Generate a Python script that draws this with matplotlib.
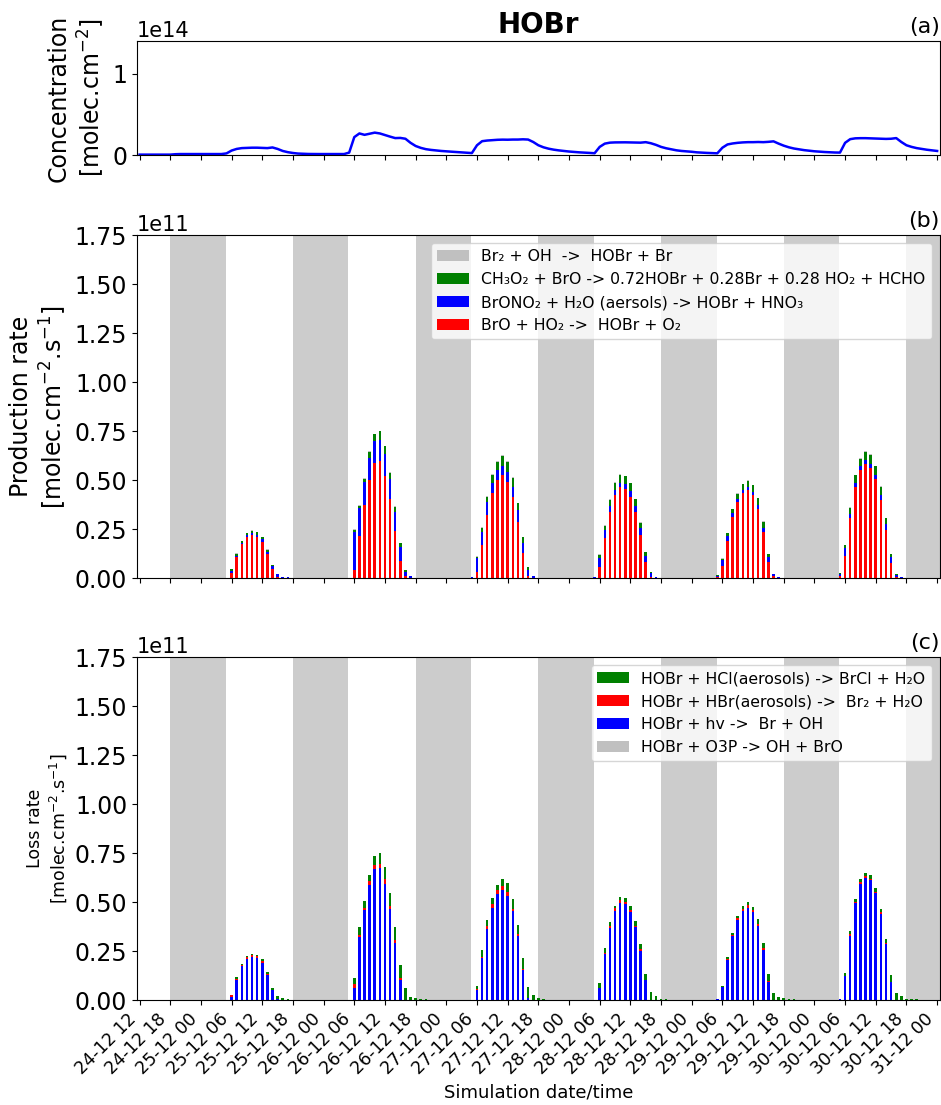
import numpy as np
import pandas as pd
import matplotlib
matplotlib.use("Agg")
import matplotlib.pyplot as plt
import matplotlib.dates as mdates

# HOBr column (x1e14 molec/cm2), hourly, 24-12 12h -> 31-12 00h
CONC_24 = [0.005, 0.005, 0.005, 0.005, 0.005, 0.005, 0.005, 0.01, 0.012, 0.012, 0.012, 0.012]
CONC_25 = [0.012, 0.012, 0.012, 0.012, 0.012, 0.02, 0.055, 0.075, 0.085, 0.088, 0.09, 0.09,
           0.088, 0.085, 0.093, 0.075, 0.05, 0.035, 0.025, 0.018, 0.015, 0.013, 0.012, 0.012]
CONC_26 = [0.012, 0.012, 0.012, 0.012, 0.012, 0.03, 0.22, 0.265, 0.248, 0.262, 0.275, 0.265,
           0.245, 0.226, 0.208, 0.21, 0.2, 0.15, 0.111, 0.088, 0.072, 0.063, 0.056, 0.05]
CONC_27 = [0.045, 0.041, 0.037, 0.033, 0.03, 0.024, 0.12, 0.17, 0.178, 0.183, 0.187, 0.189,
           0.188, 0.19, 0.19, 0.193, 0.19, 0.16, 0.12, 0.095, 0.078, 0.066, 0.057, 0.05]
CONC_28 = [0.043, 0.038, 0.033, 0.03, 0.026, 0.022, 0.1, 0.14, 0.152, 0.155, 0.156, 0.156,
           0.155, 0.154, 0.152, 0.158, 0.145, 0.125, 0.1, 0.083, 0.07, 0.058, 0.05, 0.045]
CONC_29 = [0.04, 0.033, 0.029, 0.026, 0.023, 0.021, 0.09, 0.13, 0.142, 0.15, 0.155, 0.158,
           0.158, 0.16, 0.158, 0.162, 0.168, 0.14, 0.115, 0.095, 0.08, 0.07, 0.06, 0.053]
CONC_30 = [0.046, 0.041, 0.037, 0.034, 0.031, 0.03, 0.15, 0.195, 0.205, 0.207, 0.207, 0.205,
           0.203, 0.2, 0.198, 0.2, 0.208, 0.16, 0.12, 0.1, 0.085, 0.075, 0.065, 0.058]
CONC_31 = [0.05]

# bar days and hours (05h .. 20h of each day), rates in 1e11 molec/cm2/s
DAYS = ["2019-12-25", "2019-12-26", "2019-12-27", "2019-12-28", "2019-12-29", "2019-12-30"]
BAR_HOURS = list(range(5, 21))

# production terms
PROD_BRO_HO2 = [
    [0, 0.029, 0.11, 0.175, 0.211, 0.223, 0.211, 0.184, 0.126, 0.048, 0.008, 0, 0, 0, 0, 0],
    [0, 0.044, 0.218, 0.374, 0.502, 0.587, 0.599, 0.524, 0.405, 0.241, 0.087, 0.01, 0, 0, 0, 0],
    [0, 0.031, 0.17, 0.325, 0.435, 0.502, 0.526, 0.491, 0.413, 0.286, 0.128, 0.014, 0, 0, 0, 0],
    [0, 0.056, 0.207, 0.34, 0.425, 0.464, 0.454, 0.417, 0.34, 0.223, 0.082, 0.008, 0, 0, 0, 0],
    [0.006, 0.061, 0.192, 0.31, 0.388, 0.437, 0.451, 0.427, 0.354, 0.236, 0.085, 0.01, 0, 0, 0, 0],
    [0.014, 0.114, 0.308, 0.464, 0.553, 0.583, 0.565, 0.505, 0.4, 0.245, 0.078, 0.006, 0, 0, 0, 0],
]
PROD_BRONO2 = [
    [0, 0.01, 0.005, 0.007, 0.01, 0.007, 0.01, 0.015, 0.01, 0.017, 0.012, 0.005, 0.005, 0, 0, 0],
    [0, 0.194, 0.139, 0.119, 0.114, 0.112, 0.107, 0.11, 0.1, 0.097, 0.071, 0.024, 0.01, 0.003, 0.003, 0.003],
    [0.008, 0.07, 0.068, 0.063, 0.053, 0.048, 0.049, 0.053, 0.054, 0.06, 0.053, 0.029, 0.01, 0.003, 0.003, 0],
    [0.008, 0.048, 0.039, 0.031, 0.027, 0.024, 0.027, 0.029, 0.031, 0.032, 0.034, 0.019, 0.005, 0.003, 0.003, 0.003],
    [0.005, 0.031, 0.026, 0.022, 0.017, 0.015, 0.014, 0.015, 0.019, 0.022, 0.024, 0.01, 0.008, 0.003, 0.003, 0.003],
    [0.01, 0.041, 0.022, 0.02, 0.02, 0.018, 0.02, 0.02, 0.027, 0.031, 0.031, 0.012, 0.005, 0.003, 0.003, 0],
]
PROD_CH3O2 = [
    [0, 0.007, 0.01, 0.008, 0.01, 0.012, 0.015, 0.01, 0.009, 0.003, 0.002, 0, 0, 0, 0, 0],
    [0, 0.01, 0.014, 0.015, 0.029, 0.036, 0.044, 0.039, 0.032, 0.027, 0.021, 0.01, 0, 0, 0, 0],
    [0, 0.008, 0.019, 0.029, 0.041, 0.044, 0.049, 0.05, 0.047, 0.037, 0.028, 0.013, 0, 0, 0, 0],
    [0, 0.017, 0.023, 0.03, 0.036, 0.041, 0.039, 0.039, 0.032, 0.029, 0.017, 0.007, 0, 0, 0, 0],
    [0.005, 0.008, 0.012, 0.019, 0.027, 0.028, 0.033, 0.032, 0.035, 0.029, 0.013, 0.004, 0, 0, 0, 0],
    [0.005, 0.013, 0.029, 0.041, 0.037, 0.044, 0.045, 0.046, 0.039, 0.03, 0.013, 0.006, 0, 0, 0, 0],
]
PROD_BR2_OH = [
    [0, 0.002, 0.002, 0.002, 0.002, 0.002, 0.002, 0.002, 0.002, 0.002, 0, 0, 0, 0, 0, 0],
    [0, 0.003, 0.003, 0.003, 0.003, 0.003, 0.003, 0.003, 0.003, 0.003, 0.002, 0, 0, 0, 0, 0],
    [0, 0.003, 0.003, 0.003, 0.003, 0.003, 0.003, 0.003, 0.003, 0.003, 0.002, 0, 0, 0, 0, 0],
    [0, 0.003, 0.003, 0.003, 0.003, 0.003, 0.003, 0.003, 0.003, 0.003, 0.002, 0, 0, 0, 0, 0],
    [0, 0.003, 0.003, 0.003, 0.003, 0.003, 0.003, 0.003, 0.003, 0.003, 0.002, 0, 0, 0, 0, 0],
    [0, 0.003, 0.003, 0.003, 0.003, 0.003, 0.003, 0.003, 0.003, 0.003, 0.002, 0, 0, 0, 0, 0],
]

# loss terms
LOSS_O3P = [[0] * 16 for _ in range(6)]
LOSS_HV = [
    [0, 0.019, 0.105, 0.173, 0.209, 0.223, 0.218, 0.192, 0.131, 0.051, 0.005, 0, 0, 0, 0, 0],
    [0, 0.063, 0.321, 0.461, 0.587, 0.668, 0.673, 0.595, 0.464, 0.293, 0.105, 0.003, 0, 0, 0, 0],
    [0, 0.051, 0.216, 0.366, 0.473, 0.543, 0.563, 0.532, 0.456, 0.328, 0.153, 0.014, 0, 0, 0, 0],
    [0, 0.065, 0.236, 0.369, 0.456, 0.495, 0.49, 0.451, 0.372, 0.253, 0.102, 0.003, 0, 0, 0, 0],
    [0.005, 0.068, 0.206, 0.328, 0.41, 0.456, 0.473, 0.449, 0.381, 0.257, 0.095, 0, 0, 0, 0, 0],
    [0.005, 0.122, 0.33, 0.497, 0.594, 0.626, 0.611, 0.546, 0.442, 0.286, 0.094, 0, 0, 0, 0, 0],
]
LOSS_HBR = [
    [0, 0.007, 0.005, 0.005, 0.01, 0.006, 0.007, 0.007, 0.004, 0, 0, 0, 0, 0, 0, 0],
    [0, 0.02, 0.01, 0.012, 0.019, 0.024, 0.024, 0.024, 0.019, 0.014, 0.009, 0, 0, 0, 0, 0],
    [0, 0.005, 0.003, 0.012, 0.02, 0.019, 0.02, 0.02, 0.012, 0.012, 0.005, 0, 0, 0, 0, 0],
    [0, 0, 0.005, 0.01, 0.015, 0.017, 0.012, 0.008, 0.009, 0.01, 0, 0, 0, 0, 0, 0],
    [0, 0, 0.005, 0.005, 0.008, 0.01, 0.012, 0.01, 0.01, 0.008, 0.003, 0, 0, 0, 0, 0],
    [0, 0.004, 0.007, 0.006, 0.01, 0.01, 0.01, 0.008, 0.007, 0.004, 0, 0, 0, 0, 0, 0],
]
LOSS_HCL = [
    [0, 0, 0.007, 0.007, 0.009, 0.007, 0.008, 0.01, 0.01, 0.014, 0.015, 0.01, 0.005, 0, 0, 0],
    [0, 0.033, 0.044, 0.032, 0.034, 0.043, 0.053, 0.06, 0.065, 0.065, 0.068, 0.06, 0.019, 0.01, 0.005, 0.005],
    [0, 0.015, 0.036, 0.03, 0.031, 0.028, 0.038, 0.045, 0.047, 0.044, 0.055, 0.054, 0.026, 0.01, 0.005, 0],
    [0, 0.022, 0.024, 0.02, 0.012, 0.017, 0.022, 0.02, 0.022, 0.026, 0.034, 0.04, 0.02, 0.008, 0.004, 0],
    [0, 0.005, 0.012, 0.009, 0.012, 0.015, 0.017, 0.019, 0.024, 0.026, 0.038, 0.037, 0.019, 0.012, 0.005, 0.005],
    [0, 0.012, 0.017, 0.014, 0.015, 0.014, 0.017, 0.019, 0.015, 0.021, 0.035, 0.036, 0.022, 0.008, 0.006, 0.005],
]

PROD_LABELS = ["BrO + HO\u2082 ->  HOBr + O\u2082",
               "BrONO\u2082 + H\u2082O (aersols) -> HOBr + HNO\u2083",
               "CH\u2083O\u2082 + BrO -> 0.72HOBr + 0.28Br + 0.28 HO\u2082 + HCHO",
               "Br\u2082 + OH  ->  HOBr + Br"]
LOSS_LABELS = ["HOBr + O3P -> OH + BrO",
               "HOBr + hv ->  Br + OH",
               "HOBr + HBr(aerosols) ->  Br\u2082 + H\u2082O",
               "HOBr + HCl(aerosols) -> BrCl + H\u2082O"]

START = pd.Timestamp("2019-12-24 12:00")
END = pd.Timestamp("2019-12-31 00:00")

plt.rcParams["ytick.labelsize"] = 17
plt.rcParams["xtick.labelsize"] = 12.5

conc = np.array(CONC_24 + CONC_25 + CONC_26 + CONC_27 + CONC_28 + CONC_29 + CONC_30 + CONC_31) * 1e14
times = pd.date_range(START, END, freq="h")

bar_times = [pd.Timestamp(d) + pd.Timedelta(hours=h) for d in DAYS for h in BAR_HOURS]
bx = mdates.date2num(bar_times)
width = 0.5 / 24


def flat(rows):
    return np.array(rows, dtype=float).ravel() * 1e11


def stacked(ax, series, colors, labels):
    bottom = np.zeros(len(bx))
    handles = []
    for vals, c, lab in zip(series, colors, labels):
        h = ax.bar(bx, vals, width, bottom=bottom, color=c, label=lab, zorder=2)
        bottom += vals
        handles.append(h)
    return handles


def shade_nights(ax):
    for d in pd.date_range("2019-12-24", "2019-12-30", freq="D"):
        ax.axvspan(d + pd.Timedelta(hours=18), d + pd.Timedelta(hours=28, minutes=52),
                   color="#cccccc", lw=0, zorder=0)


fig = plt.figure(figsize=(9.41, 11.05), dpi=100)
L, W = 0.1456, 0.853
ax1 = fig.add_axes([L, 0.8597, W, 0.1032])
ax2 = fig.add_axes([L, 0.4767, W, 0.3104], sharex=ax1)
ax3 = fig.add_axes([L, 0.0948, W, 0.3104], sharex=ax1)

ax1.plot(times, conc, color="blue", lw=1.8)
ax1.set_ylim(0, 1.4e14)
ax1.set_yticks([0, 1e14])
ax1.set_ylabel("Concentration\n[molec.cm$^{-2}$]", fontsize=17)
ax1.set_title("HOBr", fontsize=20, fontweight="bold")
ax1.set_title("(a)", loc="right", fontsize=16)

shade_nights(ax2)
hp = stacked(ax2, [flat(PROD_BRO_HO2), flat(PROD_BRONO2), flat(PROD_CH3O2), flat(PROD_BR2_OH)],
             ["red", "blue", "green", "silver"], PROD_LABELS)
ax2.legend(hp[::-1], PROD_LABELS[::-1], loc="upper right", fontsize=11.3)
ax2.set_ylim(0, 1.75e11)
ax2.set_yticks(np.arange(0, 1.76, 0.25) * 1e11)
ax2.set_ylabel("Production rate\n[molec.cm$^{-2}$.s$^{-1}$]", fontsize=17)
ax2.set_title("(b)", loc="right", fontsize=16)

shade_nights(ax3)
hl = stacked(ax3, [flat(LOSS_O3P), flat(LOSS_HV), flat(LOSS_HBR), flat(LOSS_HCL)],
             ["silver", "blue", "red", "green"], LOSS_LABELS)
ax3.legend(hl[::-1], LOSS_LABELS[::-1], loc="upper right", fontsize=11.3)
ax3.set_ylim(0, 1.75e11)
ax3.set_yticks(np.arange(0, 1.76, 0.25) * 1e11)
ax3.set_ylabel("Loss rate\n[molec.cm$^{-2}$.s$^{-1}$]", fontsize=12.5)
ax3.set_title("(c)", loc="right", fontsize=16)
ax3.set_xlabel("Simulation date/time", fontsize=13)

for ax in (ax1, ax2, ax3):
    ax.yaxis.get_offset_text().set_fontsize(15)

ax3.set_xlim(START - pd.Timedelta(minutes=30), END + pd.Timedelta(minutes=30))
ax3.xaxis.set_major_locator(mdates.HourLocator(byhour=[0, 6, 12, 18]))
ax3.xaxis.set_major_formatter(mdates.DateFormatter("%d-%m %H"))
plt.setp(ax3.get_xticklabels(), rotation=45, ha="right")
ax1.tick_params(labelbottom=False)
ax2.tick_params(labelbottom=False)

fig.savefig("out.png", dpi=100)
